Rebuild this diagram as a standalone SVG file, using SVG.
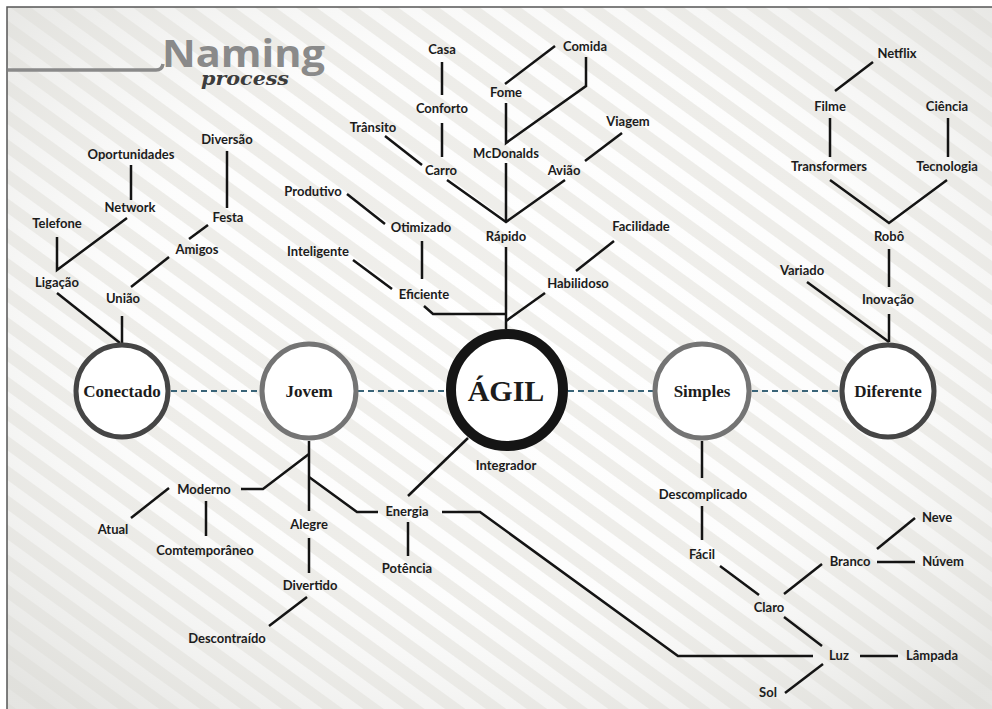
<svg xmlns="http://www.w3.org/2000/svg" width="992" height="709" viewBox="0 0 992 709">
<style>
.lbl{font-family:Lato,"Open Sans","DejaVu Sans",sans-serif;font-weight:700;font-size:13px;fill:#1c1c1c;text-anchor:middle}
.ct{font-family:"Liberation Serif","DejaVu Serif",serif;font-weight:700;font-size:17px;fill:#1c1c1c;text-anchor:middle}
.big{font-size:30px}
.ln{fill:none;stroke:#141414;stroke-width:2.5;stroke-linecap:butt;stroke-linejoin:miter}
.dash{fill:none;stroke:#3a6478;stroke-width:2;stroke-dasharray:6 4}
.c-dark{fill:#fff;stroke:#454545;stroke-width:5}
.c-grey{fill:#fff;stroke:#747474;stroke-width:5}
.c-main{fill:#fff;stroke:#151515;stroke-width:10}
</style>
<defs>
<pattern id="stripes" width="24" height="24" patternUnits="userSpaceOnUse" patternTransform="rotate(36)">
<rect width="24" height="24" fill="#eeede9"/>
<rect width="24" height="12" fill="#ffffff"/>
</pattern>
<radialGradient id="vig" cx="0.5" cy="0.45" r="0.7">
<stop offset="0" stop-color="#ffffff" stop-opacity="0.15"/>
<stop offset="0.55" stop-color="#e9e9e6" stop-opacity="0.1"/>
<stop offset="1" stop-color="#dcdcd8" stop-opacity="0.75"/>
</radialGradient>
</defs>
<rect width="992" height="709" fill="#ffffff"/>
<rect x="7" y="7" width="990" height="710" fill="url(#stripes)"/>
<rect x="7" y="7" width="990" height="710" fill="url(#vig)"/>
<path d="M7,709 V7 H992" fill="none" stroke="#555" stroke-width="1.5"/>

<g id="title">
<path d="M8,70 H156 Q162,70 163,64" fill="none" stroke="#8a8a8a" stroke-width="3.5"/>
<text x="162" y="67" font-family="'Open Sans',Lato,sans-serif" font-weight="700" font-size="37" fill="#8a8a8a" textLength="163" lengthAdjust="spacingAndGlyphs">Naming</text>
<text x="201" y="85" font-family="'DejaVu Serif','Liberation Serif',serif" font-style="italic" font-weight="700" font-size="18" fill="#3c3c3c" textLength="88" lengthAdjust="spacingAndGlyphs">process</text>
</g>

<g id="connectors">
<line class="dash" x1="171" y1="391" x2="260" y2="391"/>
<line class="dash" x1="358" y1="391" x2="447" y2="391"/>
<line class="dash" x1="568" y1="391" x2="653" y2="391"/>
<line class="dash" x1="752" y1="391" x2="840" y2="391"/>
<line class="ln" x1="131" y1="165" x2="131" y2="200"/>
<line class="ln" x1="227" y1="151" x2="227" y2="208"/>
<path class="ln" d="M127,218 L57,270 V237"/>
<line class="ln" x1="208" y1="225" x2="189" y2="239"/>
<line class="ln" x1="169" y1="257" x2="131" y2="287"/>
<line class="ln" x1="57" y1="293" x2="120" y2="343"/>
<line class="ln" x1="122" y1="316" x2="122" y2="343"/>
<line class="ln" x1="442" y1="62" x2="442" y2="95"/>
<line class="ln" x1="442" y1="123" x2="442" y2="157"/>
<line class="ln" x1="555" y1="46" x2="505" y2="84"/>
<path class="ln" d="M586,57 V86 L506,143 V103"/>
<line class="ln" x1="385" y1="136" x2="422" y2="165"/>
<line class="ln" x1="622" y1="133" x2="585" y2="161"/>
<path class="ln" d="M447,180 L506,222 L565,180"/>
<line class="ln" x1="506" y1="163" x2="506" y2="222"/>
<line class="ln" x1="347" y1="194" x2="385" y2="224"/>
<line class="ln" x1="422" y1="241" x2="422" y2="279"/>
<line class="ln" x1="353" y1="260" x2="392" y2="289"/>
<path class="ln" d="M424,306 L433,314 H506"/>
<line class="ln" x1="506" y1="247" x2="506" y2="329"/>
<line class="ln" x1="614" y1="241" x2="576" y2="271"/>
<line class="ln" x1="545" y1="293" x2="506" y2="321"/>
<line class="ln" x1="873" y1="62" x2="835" y2="91"/>
<line class="ln" x1="830" y1="118" x2="830" y2="157"/>
<line class="ln" x1="948" y1="118" x2="948" y2="157"/>
<path class="ln" d="M830,180 L889,223 L947,180"/>
<line class="ln" x1="889" y1="249" x2="889" y2="287"/>
<line class="ln" x1="889" y1="314" x2="889" y2="342"/>
<line class="ln" x1="807" y1="282" x2="889" y2="342"/>
<line class="ln" x1="309" y1="441" x2="309" y2="511"/>
<path class="ln" d="M309,454 L263,489 H241"/>
<path class="ln" d="M309,477 L357,512 H378"/>
<line class="ln" x1="169" y1="488" x2="131" y2="518"/>
<line class="ln" x1="206" y1="501" x2="206" y2="536"/>
<line class="ln" x1="309" y1="538" x2="309" y2="573"/>
<line class="ln" x1="307" y1="597" x2="269" y2="626"/>
<line class="ln" x1="408" y1="522" x2="408" y2="556"/>
<line class="ln" x1="408" y1="496" x2="468" y2="438"/>
<path class="ln" d="M442,512 H480 L678,656 H813"/>
<line class="ln" x1="702" y1="441" x2="702" y2="478"/>
<line class="ln" x1="702" y1="506" x2="702" y2="540"/>
<line class="ln" x1="915" y1="518" x2="877" y2="549"/>
<line class="ln" x1="877" y1="562" x2="915" y2="562"/>
<line class="ln" x1="720" y1="566" x2="759" y2="595"/>
<line class="ln" x1="822" y1="564" x2="784" y2="594"/>
<line class="ln" x1="784" y1="617" x2="822" y2="646"/>
<line class="ln" x1="860" y1="656" x2="898" y2="656"/>
<line class="ln" x1="823" y1="664" x2="785" y2="693"/>
</g>

<g id="conectado"><circle class="c-dark" cx="122" cy="391" r="46"/><text class="ct" x="122" y="397">Conectado</text></g>
<g id="jovem"><circle class="c-grey" cx="309" cy="391" r="47"/><text class="ct" x="309" y="397">Jovem</text></g>
<g id="agil"><circle class="c-main" cx="507" cy="390" r="56"/><text class="ct big" x="506" y="401">ÁGIL</text></g>
<g id="simples"><circle class="c-grey" cx="702" cy="391" r="47"/><text class="ct" x="702" y="397">Simples</text></g>
<g id="diferente"><circle class="c-dark" cx="888" cy="391" r="46"/><text class="ct" x="888" y="397">Diferente</text></g>

<g id="n-diversao"><text class="lbl" x="227" y="144">Diversão</text></g>
<g id="n-oportunidades"><text class="lbl" x="131" y="159">Oportunidades</text></g>
<g id="n-network"><text class="lbl" x="130" y="212">Network</text></g>
<g id="n-telefone"><text class="lbl" x="57" y="228">Telefone</text></g>
<g id="n-festa"><text class="lbl" x="228" y="222">Festa</text></g>
<g id="n-amigos"><text class="lbl" x="197" y="254">Amigos</text></g>
<g id="n-ligacao"><text class="lbl" x="57" y="287">Ligação</text></g>
<g id="n-uniao"><text class="lbl" x="123" y="303">União</text></g>

<g id="n-casa"><text class="lbl" x="442" y="54">Casa</text></g>
<g id="n-comida"><text class="lbl" x="585" y="51">Comida</text></g>
<g id="n-fome"><text class="lbl" x="506" y="97">Fome</text></g>
<g id="n-conforto"><text class="lbl" x="442" y="113">Conforto</text></g>
<g id="n-transito"><text class="lbl" x="373" y="132">Trânsito</text></g>
<g id="n-viagem"><text class="lbl" x="628" y="126">Viagem</text></g>
<g id="n-mcdonalds"><text class="lbl" x="506" y="158">McDonalds</text></g>
<g id="n-carro"><text class="lbl" x="441" y="175">Carro</text></g>
<g id="n-aviao"><text class="lbl" x="564" y="175">Avião</text></g>
<g id="n-produtivo"><text class="lbl" x="313" y="196">Produtivo</text></g>
<g id="n-otimizado"><text class="lbl" x="421" y="232">Otimizado</text></g>
<g id="n-rapido"><text class="lbl" x="506" y="241">Rápido</text></g>
<g id="n-facilidade"><text class="lbl" x="641" y="231">Facilidade</text></g>
<g id="n-inteligente"><text class="lbl" x="318" y="256">Inteligente</text></g>
<g id="n-habilidoso"><text class="lbl" x="578" y="288">Habilidoso</text></g>
<g id="n-eficiente"><text class="lbl" x="424" y="299">Eficiente</text></g>

<g id="n-netflix"><text class="lbl" x="897" y="58">Netflix</text></g>
<g id="n-filme"><text class="lbl" x="830" y="111">Filme</text></g>
<g id="n-ciencia"><text class="lbl" x="947" y="111">Ciência</text></g>
<g id="n-transformers"><text class="lbl" x="829" y="171">Transformers</text></g>
<g id="n-tecnologia"><text class="lbl" x="947" y="171">Tecnologia</text></g>
<g id="n-robo"><text class="lbl" x="889" y="241">Robô</text></g>
<g id="n-variado"><text class="lbl" x="802" y="275">Variado</text></g>
<g id="n-inovacao"><text class="lbl" x="888" y="304">Inovação</text></g>

<g id="n-integrador"><text class="lbl" x="506" y="470">Integrador</text></g>
<g id="n-moderno"><text class="lbl" x="204" y="494">Moderno</text></g>
<g id="n-atual"><text class="lbl" x="113" y="534">Atual</text></g>
<g id="n-comtemporaneo"><text class="lbl" x="205" y="555">Comtemporâneo</text></g>
<g id="n-alegre"><text class="lbl" x="309" y="529">Alegre</text></g>
<g id="n-energia"><text class="lbl" x="407" y="516">Energia</text></g>
<g id="n-potencia"><text class="lbl" x="407" y="573">Potência</text></g>
<g id="n-divertido"><text class="lbl" x="310" y="590">Divertido</text></g>
<g id="n-descontraido"><text class="lbl" x="227" y="643">Descontraído</text></g>

<g id="n-descomplicado"><text class="lbl" x="703" y="499">Descomplicado</text></g>
<g id="n-facil"><text class="lbl" x="702" y="559">Fácil</text></g>
<g id="n-neve"><text class="lbl" x="937" y="522">Neve</text></g>
<g id="n-branco"><text class="lbl" x="850" y="566">Branco</text></g>
<g id="n-nuvem"><text class="lbl" x="943" y="566">Núvem</text></g>
<g id="n-claro"><text class="lbl" x="769" y="612">Claro</text></g>
<g id="n-luz"><text class="lbl" x="839" y="660">Luz</text></g>
<g id="n-lampada"><text class="lbl" x="932" y="660">Lâmpada</text></g>
<g id="n-sol"><text class="lbl" x="768" y="697">Sol</text></g>
</svg>
